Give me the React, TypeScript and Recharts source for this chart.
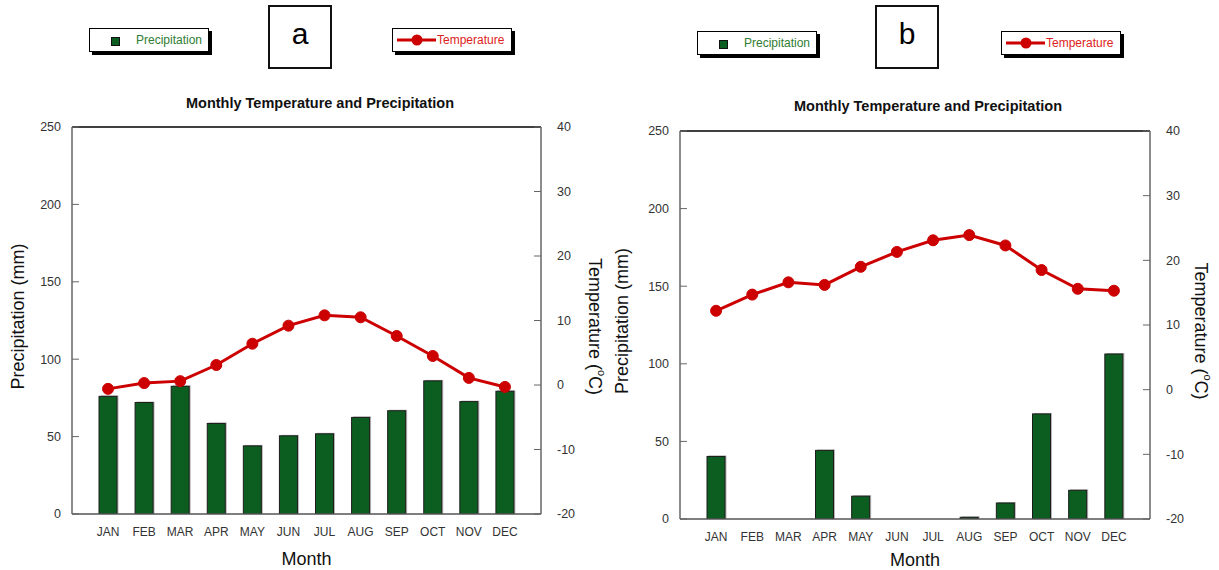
import { ComposedChart, Bar, Line, XAxis, YAxis, ReferenceLine, Label } from "recharts";

const months = ["JAN", "FEB", "MAR", "APR", "MAY", "JUN", "JUL", "AUG", "SEP", "OCT", "NOV", "DEC"];

// panel a
const precipA = [76, 72, 82.5, 58.5, 44, 50.5, 51.8, 62.4, 66.7, 86, 72.6, 79.3];
const tempA = [-0.6, 0.3, 0.6, 3.1, 6.4, 9.2, 10.8, 10.5, 7.6, 4.5, 1.1, -0.3];

// panel b
const precipB = [40.3, 0, 0, 44.2, 14.7, 0, 0, 1.1, 10.3, 67.7, 18.5, 106.3];
const tempB = [12.2, 14.7, 16.6, 16.2, 19.0, 21.3, 23.1, 23.9, 22.3, 18.5, 15.6, 15.3];

const precipTicks = [0, 50, 100, 150, 200, 250];
const tempTicks = [-20, -10, 0, 10, 20, 30, 40];

const FONT = '"Liberation Sans", Arial, Helvetica, sans-serif';
const GREEN = "#0b5e1f";
const RED = "#cc0000";

function BarWithShadow(props: any) {
  const { x, y, width, height } = props;
  if (!height || height <= 0) return null;
  return (
    <g>
      <rect x={x + 1.5} y={y - 1} width={width} height={height + 1} fill="#b5b5b5" />
      <rect x={x} y={y} width={width} height={height} fill={GREEN} stroke="#1c1c1c" strokeWidth={1} />
    </g>
  );
}

function LeftTitle(props: any) {
  const vb = props.viewBox;
  const cx = vb.x + props.dx;
  const cy = vb.y + vb.height / 2 - 4;
  return (
    <text x={cx} y={cy} transform={`rotate(-90 ${cx} ${cy})`} textAnchor="middle" dominantBaseline="central"
      fontSize={18} fontFamily={FONT} fill="#111">
      Precipitation (mm)
    </text>
  );
}

function RightTitle(props: any) {
  const vb = props.viewBox;
  const cx = vb.x + props.dx;
  const cy = vb.y + vb.height / 2 + 6;
  return (
    <text x={cx} y={cy} transform={`rotate(90 ${cx} ${cy})`} textAnchor="middle" dominantBaseline="central"
      fontSize={18} fontFamily={FONT} fill="#111">
      Temperature (<tspan fontSize={11} dy={-7}>o</tspan><tspan dy={7}>C)</tspan>
    </text>
  );
}

function MonthTitle(props: any) {
  const vb = props.viewBox;
  return (
    <text x={vb.x + vb.width / 2} y={vb.y + props.dy} textAnchor="middle" fontSize={18} fontFamily={FONT} fill="#111">
      Month
    </text>
  );
}

function LegendBox({ left, top, kind, label }: { left: number; top: number; kind: "bar" | "line"; label: string }) {
  return (
    <div
      style={{
        position: "absolute", left, top, width: 118, height: 22, background: "#fff",
        border: "1px solid #000", boxShadow: "3px 3px 0 #000", fontFamily: FONT, fontSize: 12,
      }}
    >
      {kind === "bar" ? (
        <>
          <div style={{ position: "absolute", left: 21, top: 8, width: 7, height: 7, background: GREEN, border: "1px solid #111" }} />
          <div style={{ position: "absolute", left: 46, top: 4, color: "#2f7d32" }}>{label}</div>
        </>
      ) : (
        <>
          <svg width={44} height={22} style={{ position: "absolute", left: 4, top: 0 }}>
            <line x1={0} y1={11} x2={39} y2={11} stroke={RED} strokeWidth={3} />
            <circle cx={20} cy={11} r={5.5} fill={RED} />
          </svg>
          <div style={{ position: "absolute", left: 44, top: 4, color: "#dd2222" }}>{label}</div>
        </>
      )}
    </div>
  );
}

function LetterBox({ left, letter }: { left: number; letter: string }) {
  return (
    <div
      style={{
        position: "absolute", left, top: 5, width: 60, height: 60, border: "2px solid #111", background: "#fff",
        fontFamily: FONT, fontSize: 30, textAlign: "center", lineHeight: "54px", color: "#000",
      }}
    >
      {letter}
    </div>
  );
}

interface PanelProps {
  left: number;
  width: number;
  plotTop: number;
  axisHeight: number;
  precip: number[];
  temp: number[];
  leftTitleX: number;
  rightTitleX: number;
  monthDy: number;
}

function ClimatePanel({ left, width, plotTop, axisHeight, precip, temp, leftTitleX, rightTitleX, monthDy }: PanelProps) {
  const data = months.map((m, i) => ({ month: m, precipitation: precip[i], temperature: temp[i] }));
  const tickStyle = { fill: "#333", fontSize: 12.5, fontFamily: FONT };
  return (
    <div style={{ position: "absolute", left, top: 0 }}>
      <ComposedChart width={width} height={570} data={data} margin={{ top: plotTop, right: 0, bottom: 0, left: 0 }}>
        <XAxis
          dataKey="month"
          height={axisHeight}
          padding={{ left: 18, right: 18 }}
          interval={0}
          tickLine={false}
          tickMargin={7.5}
          axisLine={{ stroke: "#555", strokeWidth: 1.5 }}
          tick={{ fill: "#333", fontSize: 12, fontFamily: FONT }}
        >
          <Label content={(p: any) => <MonthTitle {...p} dy={monthDy} />} />
        </XAxis>
        <YAxis
          yAxisId="p"
          width={72}
          domain={[0, 250]}
          ticks={precipTicks}
          allowDataOverflow
          tickSize={-7}
          tickMargin={18}
          axisLine={{ stroke: "#666", strokeWidth: 1.5 }}
          tickLine={{ stroke: "#666" }}
          tick={tickStyle}
        >
          <Label content={(p: any) => <LeftTitle {...p} dx={leftTitleX} />} />
        </YAxis>
        <YAxis
          yAxisId="t"
          orientation="right"
          width={69}
          domain={[-20, 40]}
          ticks={tempTicks}
          allowDataOverflow
          tickSize={-7}
          tickMargin={23}
          axisLine={{ stroke: "#666", strokeWidth: 1.5 }}
          tickLine={{ stroke: "#666" }}
          tick={tickStyle}
        >
          <Label content={(p: any) => <RightTitle {...p} dx={rightTitleX} />} />
        </YAxis>
        <ReferenceLine yAxisId="p" y={250} stroke="#000" strokeWidth={1.5} />
        <Bar yAxisId="p" dataKey="precipitation" barSize={18} shape={<BarWithShadow />} isAnimationActive={false} />
        <Line
          yAxisId="t"
          dataKey="temperature"
          stroke={RED}
          strokeWidth={3}
          dot={{ r: 5.5, fill: RED, stroke: RED, strokeWidth: 1 }}
          activeDot={false}
          isAnimationActive={false}
        />
      </ComposedChart>
    </div>
  );
}

function Title({ cx, top }: { cx: number; top: number }) {
  return (
    <div
      style={{
        position: "absolute", left: cx - 200, top, width: 400, textAlign: "center",
        fontFamily: FONT, fontWeight: "bold", fontSize: 14.5, color: "#111",
      }}
    >
      Monthly Temperature and Precipitation
    </div>
  );
}

export default function App() {
  return (
    <div style={{ position: "absolute", left: 0, top: 0, width: 1219, height: 570, background: "#fff", overflow: "hidden" }}>
      <ClimatePanel left={0} width={610} plotTop={127} axisHeight={56} precip={precipA} temp={tempA}
        leftTitleX={18} rightTitleX={54} monthDy={50.5} />
      <ClimatePanel left={608} width={611} plotTop={131} axisHeight={51} precip={precipB} temp={tempB}
        leftTitleX={14} rightTitleX={51} monthDy={47} />

      <Title cx={320} top={95} />
      <Title cx={928} top={98} />

      <LegendBox left={89} top={28} kind="bar" label="Precipitation" />
      <LetterBox left={268} letter="a" />
      <LegendBox left={392} top={28} kind="line" label="Temperature" />

      <LegendBox left={697} top={31} kind="bar" label="Precipitation" />
      <LetterBox left={875} letter="b" />
      <LegendBox left={1001} top={31} kind="line" label="Temperature" />
    </div>
  );
}
